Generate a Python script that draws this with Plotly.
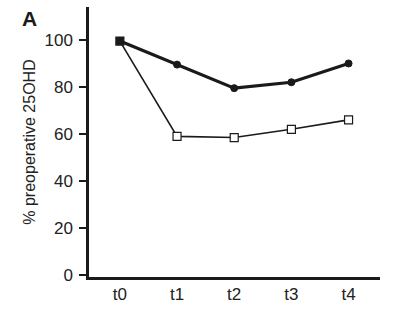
import plotly.graph_objects as go

categories = ["t0", "t1", "t2", "t3", "t4"]
filled_series = [99.5, 89.5, 79.5, 82, 90]
open_series = [99.5, 59, 58.5, 62, 66]
y_ticks = [0, 20, 40, 60, 80, 100]

xpos = list(range(len(categories)))

fig = go.Figure()
fig.add_trace(go.Scatter(
    x=xpos, y=open_series, mode="lines+markers",
    line=dict(color="#1a1a1a", width=1.6),
    marker=dict(symbol="square", size=8, color="white",
                line=dict(color="#1a1a1a", width=1.2)),
    showlegend=False))
fig.add_trace(go.Scatter(
    x=xpos, y=filled_series, mode="lines+markers",
    line=dict(color="#1a1a1a", width=3.2),
    marker=dict(symbol=["square"] + ["circle"] * (len(categories) - 1),
                size=7, color="#1a1a1a", opacity=1,
                line=dict(color="#1a1a1a", width=1)),
    showlegend=False))

fig.update_layout(
    width=414, height=310,
    margin=dict(l=89, r=34, t=7, b=33),
    paper_bgcolor="white", plot_bgcolor="white",
    font=dict(family="Liberation Sans, Arial, sans-serif", size=17, color="#222"),
    xaxis=dict(
        range=[-0.54, 4.55], tickmode="array", tickvals=xpos, ticktext=categories,
        showgrid=False, zeroline=False, showline=True, linecolor="#1a1a1a",
        linewidth=2.5, ticks="", ticklabelstandoff=0,
    ),
    yaxis=dict(
        range=[-0.8, 114], tickmode="array", tickvals=y_ticks,
        showgrid=False, zeroline=False, showline=True, linecolor="#1a1a1a",
        linewidth=2.5, ticks="outside", ticklen=7, tickwidth=1.5, tickcolor="#1a1a1a",
        ticklabelstandoff=3,
        title=dict(text="% preoperative 25OHD", font=dict(size=16), standoff=5),
    ),
    annotations=[dict(text="<b>A</b>", x=-0.206, y=0.956, xref="paper", yref="paper",
                      xanchor="center", yanchor="middle", showarrow=False,
                      font=dict(size=21, color="#1a1a1a"))],
)
fig.write_html("out.html")
